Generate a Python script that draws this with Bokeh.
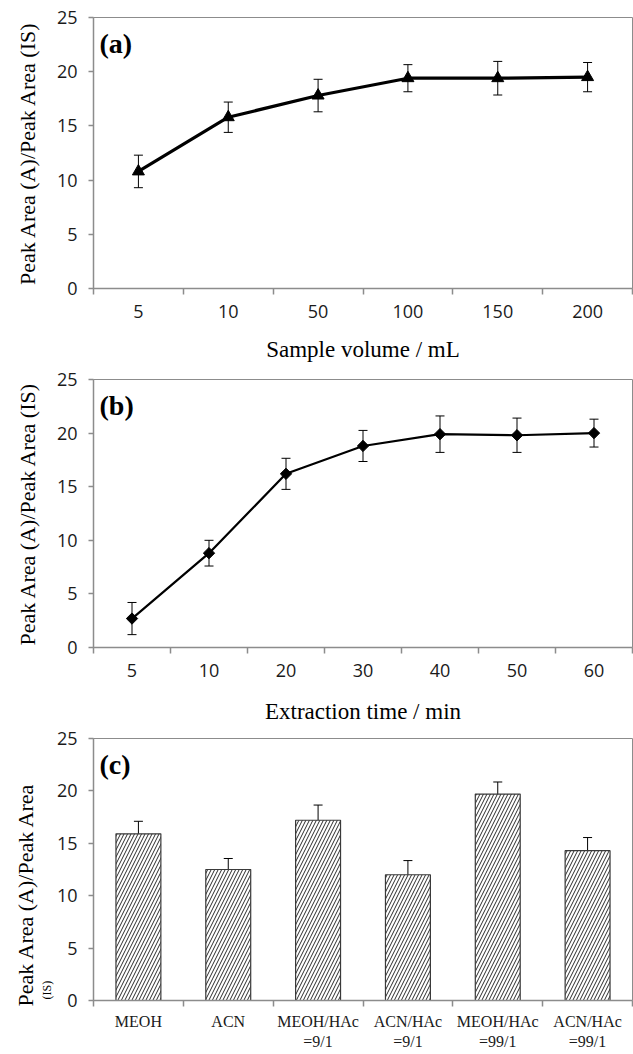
import numpy as np
from bokeh.plotting import figure
from bokeh.models import (ColumnDataSource, Range1d, FixedTicker, Whisker, TeeHead, Label, Title)
from bokeh.layouts import column
from bokeh.embed import file_html
from bokeh.resources import INLINE

# ---------------- data ----------------
a_cats = ["5", "10", "50", "100", "150", "200"]
a_vals = [10.8, 15.8, 17.8, 19.4, 19.4, 19.5]
a_err = [1.5, 1.4, 1.5, 1.25, 1.55, 1.35]

b_cats = ["5", "10", "20", "30", "40", "50", "60"]
b_vals = [2.7, 8.8, 16.2, 18.8, 19.9, 19.8, 20.0]
b_err = [1.5, 1.2, 1.45, 1.45, 1.7, 1.6, 1.3]

c_cats = ["MEOH", "ACN", "MEOH/HAc\n=9/1", "ACN/HAc\n=9/1", "MEOH/HAc\n=99/1", "ACN/HAc\n=99/1"]
c_vals = [15.9, 12.5, 17.2, 12.0, 19.7, 14.3]
c_err = [1.2, 1.05, 1.45, 1.35, 1.15, 1.25]

y_ticks = [0, 5, 10, 15, 20, 25]
y_label = "Peak Area (A)/Peak Area (IS)"
y_label_c_main = "Peak Area (A)/Peak Area"
y_label_c_second = "(IS)"
x_label_a = "Sample volume / mL"
x_label_b = "Extraction time / min"
panel_tags = ["(a)", "(b)", "(c)"]

AXIS_GRAY = "#8c8c8c"
SERIF = "Liberation Serif"
SANS = "Open Sans"


def base_fig(cats, height, border_top, border_bottom, xlabel, ylabel, tag,
             tick_font_size="18px", tick_font=SANS, xlabel_standoff=13):
    n = len(cats)
    p = figure(width=633, height=height, output_backend="svg", toolbar_location=None,
               x_range=Range1d(0, n), y_range=Range1d(0, 25),
               min_border_top=border_top, min_border_bottom=border_bottom,
               min_border_left=93, min_border_right=1)
    p.grid.visible = False
    p.outline_line_color = AXIS_GRAY
    p.outline_line_width = 1
    p.background_fill_color = "white"
    p.border_fill_color = "white"

    centers = [i + 0.5 for i in range(n)]
    xa = p.xaxis[0]
    xa.ticker = FixedTicker(ticks=centers, minor_ticks=list(range(n + 1)))
    xa.major_label_overrides = {c: lab for c, lab in zip(centers, cats)}
    xa.major_tick_line_color = None
    xa.major_tick_out = 5
    xa.major_tick_in = 0
    xa.minor_tick_line_color = AXIS_GRAY
    xa.minor_tick_line_width = 1.5
    xa.minor_tick_out = 6
    xa.minor_tick_in = 0
    xa.axis_line_color = AXIS_GRAY
    xa.axis_line_width = 1.5
    xa.major_label_text_font = tick_font
    xa.major_label_text_font_size = tick_font_size
    xa.major_label_text_color = "#1a1a1a"
    xa.major_label_standoff = 10
    xa.major_label_orientation = "horizontal"
    if xlabel:
        xa.axis_label = xlabel
        xa.axis_label_text_font = SERIF
        xa.axis_label_text_font_style = "normal"
        xa.axis_label_text_font_size = "23px"
        xa.axis_label_text_color = "black"
        xa.axis_label_standoff = xlabel_standoff

    ya = p.yaxis[0]
    ya.ticker = FixedTicker(ticks=y_ticks)
    ya.major_tick_line_color = AXIS_GRAY
    ya.major_tick_line_width = 1.5
    ya.major_tick_out = 5
    ya.major_tick_in = 0
    ya.minor_tick_line_color = None
    ya.axis_line_color = AXIS_GRAY
    ya.axis_line_width = 1.5
    ya.major_label_text_font = SANS
    ya.major_label_text_font_size = "18px"
    ya.major_label_text_color = "#1a1a1a"
    ya.major_label_standoff = 11
    if ylabel:
        ya.axis_label = ylabel
        ya.axis_label_text_font = SERIF
        ya.axis_label_text_font_style = "normal"
        ya.axis_label_text_font_size = "22px"
        ya.axis_label_text_color = "black"
        ya.axis_label_standoff = 14

    p.add_layout(Label(x=0, y=25, x_offset=6, y_offset=-10, text=tag,
                       text_font=SERIF, text_font_style="bold", text_font_size="28px",
                       text_color="black", text_baseline="top", text_align="left"))
    return p, centers


def add_errors(p, src):
    w = Whisker(source=src, base="x", upper="upper", lower="lower",
                line_color="black", line_width=1,
                upper_head=TeeHead(size=9, line_color="black", line_width=1),
                lower_head=TeeHead(size=9, line_color="black", line_width=1))
    p.add_layout(w)


# ---------------- (a) ----------------
pa, ca = base_fig(a_cats, 366, 17, 78, x_label_a, y_label, panel_tags[0], xlabel_standoff=16)
src_a = ColumnDataSource(dict(x=ca, y=a_vals,
                              upper=[v + e for v, e in zip(a_vals, a_err)],
                              lower=[v - e for v, e in zip(a_vals, a_err)]))
pa.line("x", "y", source=src_a, line_color="black", line_width=3.2)
add_errors(pa, src_a)
pa.scatter("x", "y", source=src_a, marker="triangle", size=12,
           fill_color="black", line_color="black")

# ---------------- (b) ----------------
pb, cb = base_fig(b_cats, 360, 13, 79, x_label_b, y_label, panel_tags[1], xlabel_standoff=19)
src_b = ColumnDataSource(dict(x=cb, y=b_vals,
                              upper=[v + e for v, e in zip(b_vals, b_err)],
                              lower=[v - e for v, e in zip(b_vals, b_err)]))
pb.line("x", "y", source=src_b, line_color="black", line_width=2.2)
add_errors(pb, src_b)
pb.scatter("x", "y", source=src_b, marker="square", angle=np.pi / 4, size=8,
           fill_color="black", line_color="black")

# ---------------- (c) ----------------
pc, cc = base_fig(c_cats, 326, 12, 50, None, None, panel_tags[2],
                  tick_font_size="16px", tick_font=SERIF)
pc.xaxis[0].major_label_standoff = 6
pc.add_layout(Title(text=y_label_c_second, align="left", offset=1, standoff=0,
                    text_font=SERIF, text_font_style="normal", text_font_size="12px",
                    text_color="black"), "left")
pc.add_layout(Title(text=y_label_c_main, align="left", offset=-6, standoff=0,
                    text_font=SERIF, text_font_style="normal", text_font_size="22px",
                    text_color="black"), "left")
src_c = ColumnDataSource(dict(x=cc, y=c_vals,
                              upper=[v + e for v, e in zip(c_vals, c_err)],
                              lower=[v - e for v, e in zip(c_vals, c_err)]))
pc.vbar(x="x", top="y", bottom=0, width=0.5, source=src_c,
        fill_color="white", line_color="#3a3a3a", line_width=1.2,
        hatch_pattern="/", hatch_color="#2a2a2a", hatch_scale=7, hatch_weight=1)
add_errors(pc, src_c)

layout = column(pa, pb, pc, spacing=0)
open("out.html", "w").write(file_html(layout, INLINE))
